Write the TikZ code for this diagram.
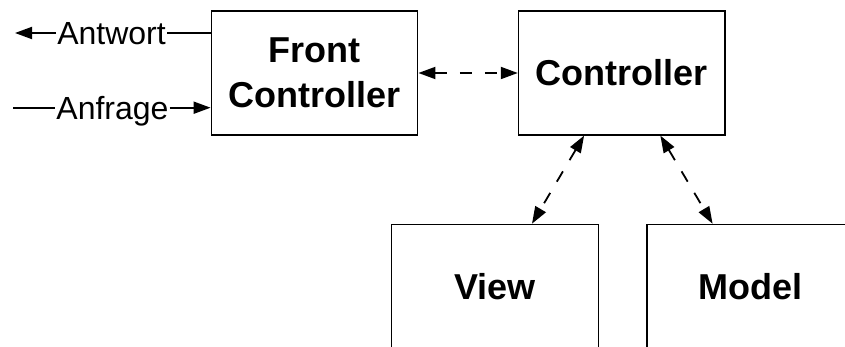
\documentclass[tikz,border=0pt]{standalone}
\usepackage{fontspec}
\setmainfont{Liberation Sans}
\usetikzlibrary{arrows.meta,calc}
\begin{document}
\begin{tikzpicture}[x=1pt,y=-1pt,
  box/.style={draw, line width=1.2pt, minimum width=206.6pt, minimum height=124pt,
    inner sep=0pt, font=\fontsize{36}{45}\selectfont\bfseries, align=center},
  lbl/.style={font=\fontsize{32}{38}\selectfont, inner sep=1pt, text height=23pt, text depth=0pt},
  conn/.style={line width=1.8pt},
  tipend/.style={-{Triangle[length=17pt,width=12pt]}},
  dconn/.style={line width=1.8pt, dash pattern=on 12pt off 13pt,
    {Triangle[length=17pt,width=12pt]}-{Triangle[length=17pt,width=12pt]}}
]
\useasboundingbox (0,0) rectangle (845,347);
\clip (0,0) rectangle (845,347);
\node[box] (fc) at (314.5,73) {Front\\Controller};
\node[box] (ctrl) at (621.7,73) {Controller};
\node[box] (view) at (495,286.3) {View};
\node[box] (model) at (750.2,286.3) {Model};

\node[lbl] (antw) at (111.5,33) {Antwort};
\node[lbl] (anfr) at (112.5,107.7) {Anfrage};
\coordinate (antwEnd) at (15,33);
\coordinate (anfrStart) at (13,107.7);

\draw[conn] (fc.west |- antw) -- (antw.east);
\draw[conn,tipend] (antw.west) -- (antwEnd);
\draw[conn] (anfrStart) -- (anfr.west);
\draw[conn,tipend] (anfr.east) -- (fc.west |- anfr);

\draw[dconn] (fc.east) -- (ctrl.west);
\draw[dconn] ($(ctrl.south west)!0.319!(ctrl.south east)$) -- ($(view.north west)!0.678!(view.north east)$);
\draw[dconn] ($(ctrl.south west)!0.686!(ctrl.south east)$) -- ($(model.north west)!0.319!(model.north east)$);
\end{tikzpicture}
\end{document}
